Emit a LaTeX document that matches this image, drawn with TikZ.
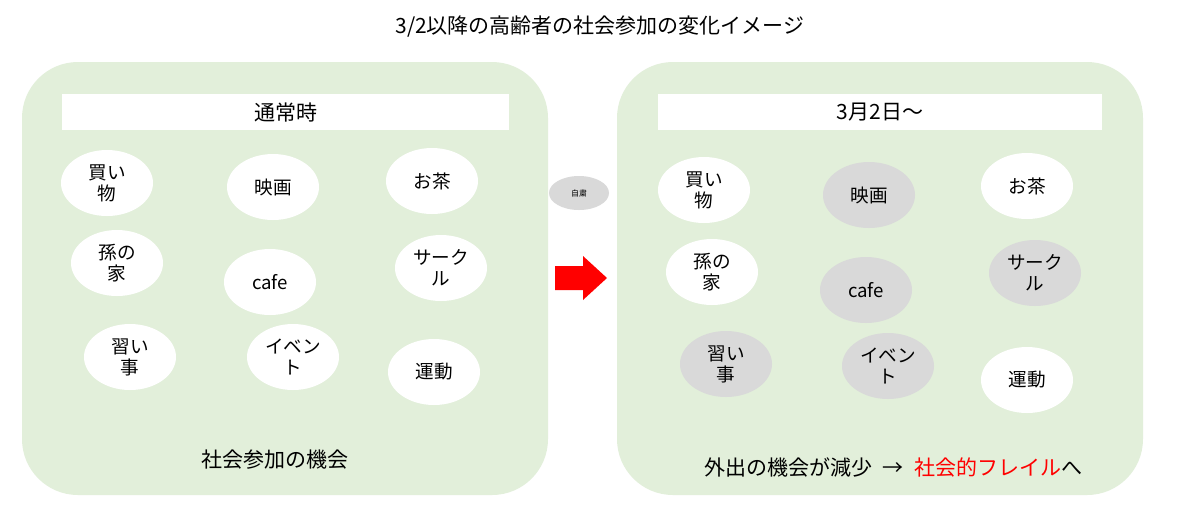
\documentclass[tikz,border=0pt]{standalone}
\usepackage{fontspec}
\setmainfont{Noto Sans CJK JP}
\usetikzlibrary{shapes.geometric}
\definecolor{pg}{HTML}{E2EFDA}
\definecolor{gy}{HTML}{D9D9D9}
\begin{document}
\begin{tikzpicture}[x=0.5pt,y=-0.5pt,
 panel/.style={fill=pg,draw=none,rounded corners=28pt},
 bub/.style={ellipse,fill=white,minimum width=46pt,minimum height=33pt,inner sep=0pt,align=center,font=\fontsize{9.3}{10.5}\selectfont},
 gbub/.style={bub,fill=gy},
 lbl/.style={font=\fontsize{10.5}{12}\selectfont}]
\useasboundingbox (0,0) rectangle (1200,511);
\fill[white] (0,0) rectangle (1200,511);
\node[lbl] (title) at (600,27) {3/2以降の高齢者の社会参加の変化イメージ};
\path[panel] (22,62) rectangle (548,495);
\path[panel] (617,62) rectangle (1143,495);
\node[fill=white,minimum width=223.5pt,minimum height=18pt,inner sep=0pt,lbl] (h1) at (285.5,112) {通常時};
\node[fill=white,minimum width=222pt,minimum height=18pt,inner sep=0pt,lbl] (h2) at (880,112) {3月2日～};
\node[bub] (a1) at (107,183) {買い\\物};
\node[bub] (a2) at (273,187) {映画};
\node[bub] (a3) at (432,181) {お茶};
\node[bub] (a4) at (117,263) {孫の\\家};
\node[bub] (a5) at (270,282) {cafe};
\node[bub] (a6) at (441,268) {サーク\\ル};
\node[bub] (a7) at (130,357) {習い\\事};
\node[bub] (a8) at (293,357) {イベン\\ト};
\node[bub] (a9) at (434,372) {運動};
\node[bub] (b1) at (704,190) {買い\\物};
\node[gbub] (b2) at (869,195) {映画};
\node[bub] (b3) at (1027,186) {お茶};
\node[bub] (b4) at (712,272) {孫の\\家};
\node[gbub] (b5) at (866,290) {cafe};
\node[gbub] (b6) at (1035,273) {サーク\\ル};
\node[gbub] (b7) at (726,364) {習い\\事};
\node[gbub] (b8) at (888,366) {イベン\\ト};
\node[bub] (b9) at (1027,380) {運動};
\node[ellipse,fill=gy,minimum width=30pt,minimum height=17pt,inner sep=0pt,font=\fontsize{4}{5}\selectfont] (j) at (579,193) {自粛};
\fill[red] (555,266) -- (583,266) -- (583,256) -- (607,278) -- (583,300) -- (583,290) -- (555,290) -- cycle;
\node[lbl] (t1) at (275,460) {社会参加の機会};
\node[lbl] (t2) at (893,467) {外出の機会が減少\enspace →\enspace \textcolor{red}{社会的フレイル}へ};
\end{tikzpicture}
\end{document}
